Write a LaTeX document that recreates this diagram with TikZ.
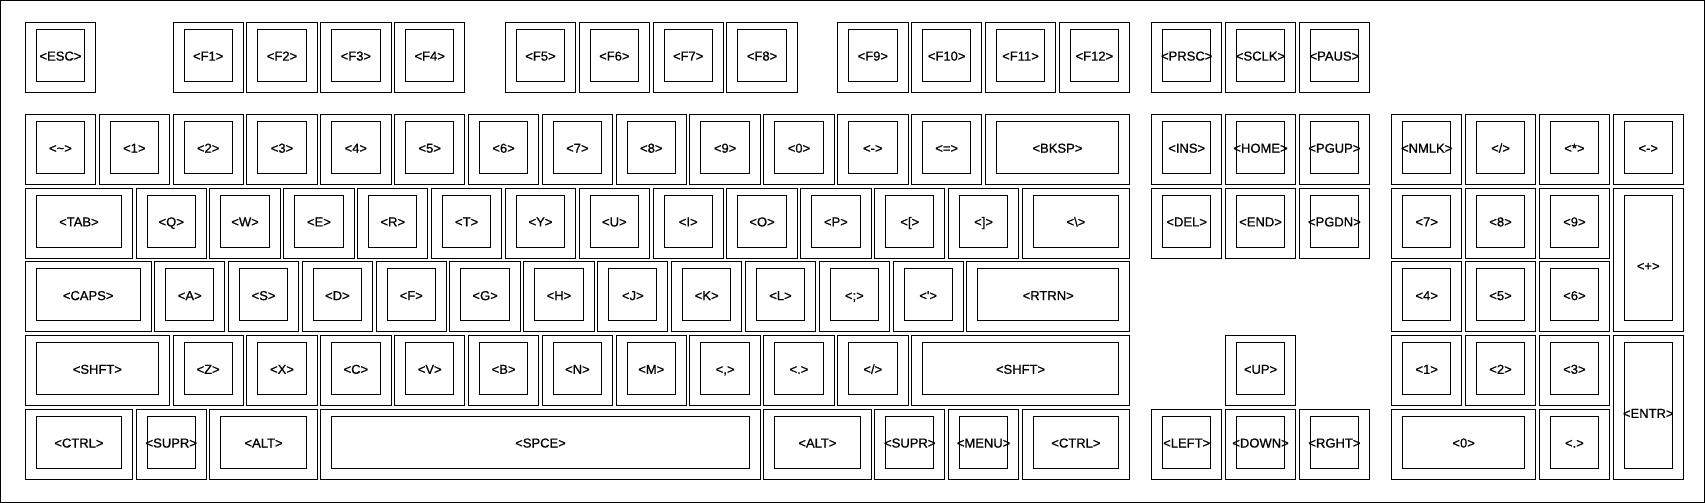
\documentclass[tikz,border=0pt]{standalone}
\usepackage{fontspec}
\newfontfamily\keyfont{Liberation Sans}[FakeBold=0.8]
\begin{document}
\begin{tikzpicture}[x=1pt,y=-1pt,
  keyout/.style={draw=black,line width=1pt,inner sep=0pt,outer sep=0pt,anchor=north west,rectangle},
  keyin/.style={draw=black,line width=1pt,inner sep=0pt,outer sep=0pt,anchor=north west,rectangle},
  keylabel/.style={font=\keyfont\fontsize{13}{13}\selectfont,inner sep=0pt,outer sep=0pt,text height=9.4pt,text depth=0pt,anchor=center},
  frame/.style={draw=black,line width=1pt}]
\newcommand\kbkey[6]{%
  \pgfmathsetmacro\kx{25.3+#2*73.85}%
  \pgfmathsetmacro\ky{22.3+#3*73.7}%
  \pgfmathsetmacro\kw{#4*73.85-3.5}%
  \pgfmathsetmacro\kh{#5*73.7-3.7}%
  \pgfmathsetmacro\iw{\kw-22}%
  \pgfmathsetmacro\ih{\kh-18}%
  \pgfmathsetmacro\ix{\kx+11}%
  \pgfmathsetmacro\iy{\ky+7}%
  \pgfmathsetmacro\lx{\kx+\kw/2}%
  \pgfmathsetmacro\ly{\ky+33.6+(#5>1.5)*44.1}%
  \node[keyout,minimum width=\kw pt,minimum height=\kh pt] (k-#1) at (\kx,\ky) {};
  \node[keyin,minimum width=\iw pt,minimum height=\ih pt] (i-#1) at (\ix,\iy) {};
  \node[keylabel] (l-#1) at (\lx,\ly) {#6};
}
\useasboundingbox (0,0) rectangle (1706,503);
\fill[white] (0,0) rectangle (1706,503);
\node[frame,inner sep=0pt,outer sep=0pt,anchor=north west,minimum width=1703.5pt,minimum height=501.5pt] (board) at (0.5,0.5) {};
% function row
\kbkey{esc}{0}{0}{1}{1}{<ESC>}
\kbkey{f1}{2}{0}{1}{1}{<F1>}
\kbkey{f2}{3}{0}{1}{1}{<F2>}
\kbkey{f3}{4}{0}{1}{1}{<F3>}
\kbkey{f4}{5}{0}{1}{1}{<F4>}
\kbkey{f5}{6.5}{0}{1}{1}{<F5>}
\kbkey{f6}{7.5}{0}{1}{1}{<F6>}
\kbkey{f7}{8.5}{0}{1}{1}{<F7>}
\kbkey{f8}{9.5}{0}{1}{1}{<F8>}
\kbkey{f9}{11}{0}{1}{1}{<F9>}
\kbkey{f10}{12}{0}{1}{1}{<F10>}
\kbkey{f11}{13}{0}{1}{1}{<F11>}
\kbkey{f12}{14}{0}{1}{1}{<F12>}
\kbkey{prsc}{15.25}{0}{1}{1}{<PRSC>}
\kbkey{sclk}{16.25}{0}{1}{1}{<SCLK>}
\kbkey{paus}{17.25}{0}{1}{1}{<PAUS>}
% row 1
\kbkey{tlde}{0}{1.25}{1}{1}{<\textasciitilde>}
\kbkey{ae1}{1}{1.25}{1}{1}{<1>}
\kbkey{ae2}{2}{1.25}{1}{1}{<2>}
\kbkey{ae3}{3}{1.25}{1}{1}{<3>}
\kbkey{ae4}{4}{1.25}{1}{1}{<4>}
\kbkey{ae5}{5}{1.25}{1}{1}{<5>}
\kbkey{ae6}{6}{1.25}{1}{1}{<6>}
\kbkey{ae7}{7}{1.25}{1}{1}{<7>}
\kbkey{ae8}{8}{1.25}{1}{1}{<8>}
\kbkey{ae9}{9}{1.25}{1}{1}{<9>}
\kbkey{ae10}{10}{1.25}{1}{1}{<0>}
\kbkey{ae11}{11}{1.25}{1}{1}{<->}
\kbkey{ae12}{12}{1.25}{1}{1}{<=>}
\kbkey{bksp}{13}{1.25}{2}{1}{<BKSP>}
\kbkey{ins}{15.25}{1.25}{1}{1}{<INS>}
\kbkey{home}{16.25}{1.25}{1}{1}{<HOME>}
\kbkey{pgup}{17.25}{1.25}{1}{1}{<PGUP>}
\kbkey{nmlk}{18.5}{1.25}{1}{1}{<NMLK>}
\kbkey{kpdv}{19.5}{1.25}{1}{1}{</>}
\kbkey{kpmu}{20.5}{1.25}{1}{1}{<*>}
\kbkey{kpsu}{21.5}{1.25}{1}{1}{<->}
% row 2
\kbkey{tab}{0}{2.25}{1.5}{1}{<TAB>}
\kbkey{ad1}{1.5}{2.25}{1}{1}{<Q>}
\kbkey{ad2}{2.5}{2.25}{1}{1}{<W>}
\kbkey{ad3}{3.5}{2.25}{1}{1}{<E>}
\kbkey{ad4}{4.5}{2.25}{1}{1}{<R>}
\kbkey{ad5}{5.5}{2.25}{1}{1}{<T>}
\kbkey{ad6}{6.5}{2.25}{1}{1}{<Y>}
\kbkey{ad7}{7.5}{2.25}{1}{1}{<U>}
\kbkey{ad8}{8.5}{2.25}{1}{1}{<I>}
\kbkey{ad9}{9.5}{2.25}{1}{1}{<O>}
\kbkey{ad10}{10.5}{2.25}{1}{1}{<P>}
\kbkey{ad11}{11.5}{2.25}{1}{1}{<[>}
\kbkey{ad12}{12.5}{2.25}{1}{1}{<]>}
\kbkey{bksl}{13.5}{2.25}{1.5}{1}{<\textbackslash>}
\kbkey{dele}{15.25}{2.25}{1}{1}{<DEL>}
\kbkey{end}{16.25}{2.25}{1}{1}{<END>}
\kbkey{pgdn}{17.25}{2.25}{1}{1}{<PGDN>}
\kbkey{kp7}{18.5}{2.25}{1}{1}{<7>}
\kbkey{kp8}{19.5}{2.25}{1}{1}{<8>}
\kbkey{kp9}{20.5}{2.25}{1}{1}{<9>}
\kbkey{kpad}{21.5}{2.25}{1}{2}{<+>}
% row 3
\kbkey{caps}{0}{3.25}{1.75}{1}{<CAPS>}
\kbkey{ac1}{1.75}{3.25}{1}{1}{<A>}
\kbkey{ac2}{2.75}{3.25}{1}{1}{<S>}
\kbkey{ac3}{3.75}{3.25}{1}{1}{<D>}
\kbkey{ac4}{4.75}{3.25}{1}{1}{<F>}
\kbkey{ac5}{5.75}{3.25}{1}{1}{<G>}
\kbkey{ac6}{6.75}{3.25}{1}{1}{<H>}
\kbkey{ac7}{7.75}{3.25}{1}{1}{<J>}
\kbkey{ac8}{8.75}{3.25}{1}{1}{<K>}
\kbkey{ac9}{9.75}{3.25}{1}{1}{<L>}
\kbkey{ac10}{10.75}{3.25}{1}{1}{<;>}
\kbkey{ac11}{11.75}{3.25}{1}{1}{<\textquotesingle>}
\kbkey{rtrn}{12.75}{3.25}{2.25}{1}{<RTRN>}
\kbkey{kp4}{18.5}{3.25}{1}{1}{<4>}
\kbkey{kp5}{19.5}{3.25}{1}{1}{<5>}
\kbkey{kp6}{20.5}{3.25}{1}{1}{<6>}
% row 4
\kbkey{lfsh}{0}{4.25}{2}{1}{<SHFT>}
\kbkey{ab1}{2}{4.25}{1}{1}{<Z>}
\kbkey{ab2}{3}{4.25}{1}{1}{<X>}
\kbkey{ab3}{4}{4.25}{1}{1}{<C>}
\kbkey{ab4}{5}{4.25}{1}{1}{<V>}
\kbkey{ab5}{6}{4.25}{1}{1}{<B>}
\kbkey{ab6}{7}{4.25}{1}{1}{<N>}
\kbkey{ab7}{8}{4.25}{1}{1}{<M>}
\kbkey{ab8}{9}{4.25}{1}{1}{<,>}
\kbkey{ab9}{10}{4.25}{1}{1}{<.>}
\kbkey{ab10}{11}{4.25}{1}{1}{</>}
\kbkey{rtsh}{12}{4.25}{3}{1}{<SHFT>}
\kbkey{up}{16.25}{4.25}{1}{1}{<UP>}
\kbkey{kp1}{18.5}{4.25}{1}{1}{<1>}
\kbkey{kp2}{19.5}{4.25}{1}{1}{<2>}
\kbkey{kp3}{20.5}{4.25}{1}{1}{<3>}
\kbkey{kpen}{21.5}{4.25}{1}{2}{<ENTR>}
% row 5
\kbkey{lctl}{0}{5.25}{1.5}{1}{<CTRL>}
\kbkey{lwin}{1.5}{5.25}{1}{1}{<SUPR>}
\kbkey{lalt}{2.5}{5.25}{1.5}{1}{<ALT>}
\kbkey{spce}{4}{5.25}{6}{1}{<SPCE>}
\kbkey{ralt}{10}{5.25}{1.5}{1}{<ALT>}
\kbkey{rwin}{11.5}{5.25}{1}{1}{<SUPR>}
\kbkey{menu}{12.5}{5.25}{1}{1}{<MENU>}
\kbkey{rctl}{13.5}{5.25}{1.5}{1}{<CTRL>}
\kbkey{left}{15.25}{5.25}{1}{1}{<LEFT>}
\kbkey{down}{16.25}{5.25}{1}{1}{<DOWN>}
\kbkey{rght}{17.25}{5.25}{1}{1}{<RGHT>}
\kbkey{kp0}{18.5}{5.25}{2}{1}{<0>}
\kbkey{kpdl}{20.5}{5.25}{1}{1}{<.>}
\end{tikzpicture}
\end{document}
